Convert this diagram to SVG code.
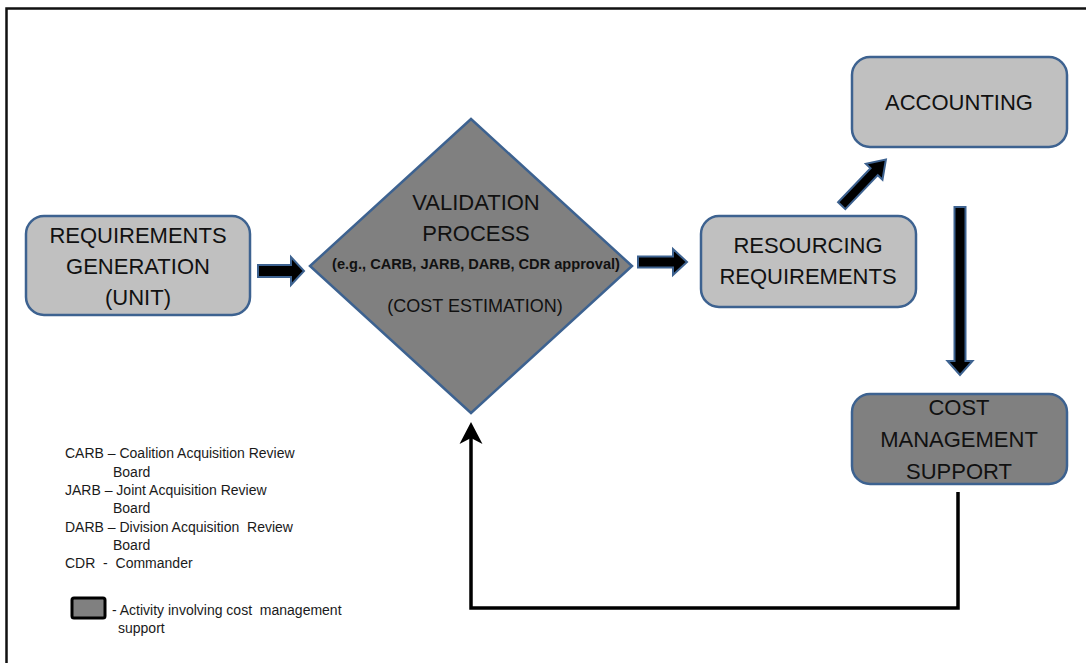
<svg xmlns="http://www.w3.org/2000/svg" width="1086" height="663" viewBox="0 0 1086 663">
  <style>
    .node { stroke: #3d6290; stroke-width: 2.5; }
    .light { fill: #c0c0c0; }
    .dark { fill: #808080; }
    .lbl { font-family: "Liberation Sans", Arial, sans-serif; font-size: 22px; fill: #111; text-anchor: middle; }
    .small { font-family: "Liberation Sans", Arial, sans-serif; font-size: 14.6px; font-weight: bold; fill: #111; text-anchor: middle; }
    .mid { font-family: "Liberation Sans", Arial, sans-serif; font-size: 18px; fill: #111; text-anchor: middle; }
    .leg { font-family: "Liberation Sans", Arial, sans-serif; font-size: 14px; fill: #1a1a1a; white-space: pre; }
    .block { fill: #000; stroke: #3d6290; stroke-width: 2; stroke-linejoin: miter; }
  </style>
  <rect width="1086" height="663" fill="#fff"/>
  <rect x="6.5" y="8.5" width="1100" height="700" fill="none" stroke="#111" stroke-width="2.5"/>

  <g id="connectors">
    <polygon class="block" points="258,265 291,265 291,257 304,271 291,285 291,277 258,277"/>
    <polygon class="block" points="638,256.5 673,256.5 673,249 687,262 673,275 673,267.5 638,267.5"/>
    <g transform="translate(841.7,205.7) rotate(-46.3)">
      <polygon class="block" points="0,-5 47,-5 47,-11.5 64,0 47,11.5 47,5 0,5"/>
    </g>
    <polygon class="block" points="954.5,207 965.5,207 965.5,361 972.5,361 960,375 947.5,361 954.5,361"/>
    <path d="M958,492 V608 H471 V438" fill="none" stroke="#000" stroke-width="3.5"/>
    <polygon points="471,422 482.5,444 471,438 459.5,444" fill="#000"/>
  </g>

  <g id="node-requirements">
    <rect class="node light" x="26" y="216" width="224" height="99" rx="18"/>
    <text class="lbl" x="138" y="243">REQUIREMENTS</text>
    <text class="lbl" x="138" y="274">GENERATION</text>
    <text class="lbl" x="138" y="305">(UNIT)</text>
  </g>

  <g id="node-validation">
    <polygon class="node dark" points="471,119 632,266 471,413 310,266"/>
    <text class="lbl" x="476" y="210">VALIDATION</text>
    <text class="lbl" x="476" y="241">PROCESS</text>
    <text class="small" x="476" y="269">(e.g., CARB, JARB, DARB, CDR approval)</text>
    <text class="mid" x="475" y="312">(COST ESTIMATION)</text>
  </g>

  <g id="node-resourcing">
    <rect class="node light" x="701" y="216" width="215" height="91" rx="18"/>
    <text class="lbl" x="808" y="253">RESOURCING</text>
    <text class="lbl" x="808" y="284">REQUIREMENTS</text>
  </g>

  <g id="node-accounting">
    <rect class="node light" x="852" y="57" width="215" height="90" rx="18"/>
    <text class="lbl" x="959" y="110">ACCOUNTING</text>
  </g>

  <g id="node-cost-management">
    <rect class="node dark" x="852" y="394" width="215" height="90" rx="18"/>
    <text class="lbl" x="959" y="415">COST</text>
    <text class="lbl" x="959" y="447">MANAGEMENT</text>
    <text class="lbl" x="959" y="479">SUPPORT</text>
  </g>

  <g id="legend">
    <text class="leg" x="65" y="458">CARB – Coalition Acquisition Review</text>
    <text class="leg" x="113" y="477">Board</text>
    <text class="leg" x="65" y="495">JARB – Joint Acquisition Review</text>
    <text class="leg" x="113" y="513">Board</text>
    <text class="leg" x="65" y="532">DARB – Division Acquisition  Review</text>
    <text class="leg" x="113" y="550">Board</text>
    <text class="leg" x="65" y="568">CDR  -  Commander</text>
    <rect x="72" y="598" width="33" height="20" rx="2" fill="#808080" stroke="#000" stroke-width="3"/>
    <text class="leg" x="112" y="615">- Activity involving cost  management</text>
    <text class="leg" x="118" y="633">support</text>
  </g>
</svg>
